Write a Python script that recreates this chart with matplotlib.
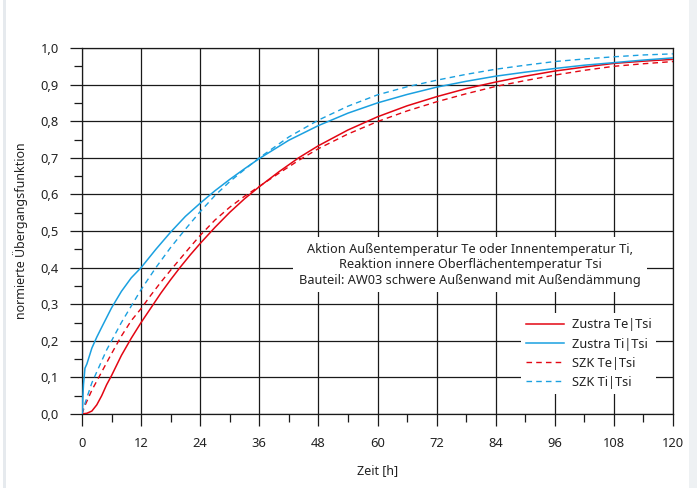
import matplotlib
matplotlib.use("Agg")
import matplotlib.pyplot as plt
from matplotlib.patches import Rectangle
from matplotlib.ticker import MultipleLocator, FixedLocator

plt.rcParams['font.family'] = ['Noto Sans', 'DejaVu Sans']

# ---- data ----
t_zustra_ti = [0, 0.3, 0.6, 1, 2, 3, 4, 6, 8, 10, 12, 15, 18, 21, 24, 27, 30, 33, 36, 42, 48,
               54, 60, 66, 72, 78, 84, 90, 96, 102, 108, 114, 120]
v_zustra_ti = [0, 0.08, 0.125, 0.137, 0.18, 0.21, 0.237, 0.29, 0.335, 0.372, 0.40, 0.45, 0.497,
               0.54, 0.576, 0.61, 0.641, 0.67, 0.698, 0.748, 0.788, 0.822, 0.85, 0.873, 0.893,
               0.909, 0.923, 0.934, 0.944, 0.953, 0.960, 0.967, 0.973]

t_szk_ti = [0, 0.5, 1, 2, 3, 4, 5, 6, 8, 10, 12, 14, 15, 18, 21, 24, 27, 30, 33, 36, 42, 48,
            54, 60, 66, 72, 78, 84, 90, 96, 102, 108, 114, 120]
v_szk_ti = [0, 0.025, 0.045, 0.085, 0.115, 0.145, 0.175, 0.20, 0.25, 0.295, 0.34, 0.38, 0.40,
            0.455, 0.505, 0.553, 0.597, 0.635, 0.668, 0.70, 0.757, 0.803, 0.841, 0.872, 0.894,
            0.912, 0.928, 0.942, 0.953, 0.963, 0.970, 0.976, 0.981, 0.984]

t_zustra_te = [0, 1, 2, 3, 4, 5, 6, 8, 10, 12, 14, 16, 18, 20, 22, 24, 27, 30, 33, 36, 40, 44,
               48, 54, 60, 66, 72, 78, 84, 90, 96, 102, 108, 114, 120]
v_zustra_te = [0, 0.002, 0.008, 0.025, 0.05, 0.08, 0.105, 0.16, 0.207, 0.25, 0.29, 0.33, 0.367,
               0.402, 0.435, 0.466, 0.51, 0.551, 0.588, 0.621, 0.662, 0.70, 0.733, 0.776, 0.812,
               0.842, 0.867, 0.889, 0.907, 0.923, 0.937, 0.948, 0.958, 0.964, 0.969]

t_szk_te = [0, 0.5, 1, 2, 3, 4, 5, 6, 8, 10, 12, 14, 16, 18, 20, 22, 24, 27, 30, 33, 36, 40, 44,
            48, 54, 60, 66, 72, 78, 84, 90, 96, 102, 108, 114, 120]
v_szk_te = [0, 0.02, 0.035, 0.065, 0.09, 0.115, 0.14, 0.165, 0.213, 0.255, 0.288, 0.325, 0.36,
            0.393, 0.425, 0.457, 0.488, 0.53, 0.565, 0.595, 0.622, 0.658, 0.693, 0.725, 0.765,
            0.799, 0.828, 0.853, 0.875, 0.895, 0.911, 0.926, 0.939, 0.95, 0.957, 0.963]

x_ticks = [0, 12, 24, 36, 48, 60, 72, 84, 96, 108, 120]
y_ticks = [0.0, 0.1, 0.2, 0.3, 0.4, 0.5, 0.6, 0.7, 0.8, 0.9, 1.0]
y_ticklabels = ['0,0', '0,1', '0,2', '0,3', '0,4', '0,5', '0,6', '0,7', '0,8', '0,9', '1,0']

labels = ['Zustra Te|Tsi', 'Zustra Ti|Tsi', 'SZK Te|Tsi', 'SZK Ti|Tsi']
annotation = ("Aktion Außentemperatur Te oder Innentemperatur Ti,\n"
              "Reaktion innere Oberflächentemperatur Tsi\n"
              "Bauteil: AW03 schwere Außenwand mit Außendämmung")

RED = '#e30613'
BLUE = '#1aa0e0'
GRID = '#1a1a1a'

W, H = 697, 488
fig = plt.figure(figsize=(W / 100, H / 100), dpi=100)
fig.patches.append(Rectangle((3 / W, 0), 3 / W, 1, transform=fig.transFigure,
                             facecolor='#e6eaee', edgecolor='none'))
fig.patches.append(Rectangle((689 / W, 0), 8 / W, 1, transform=fig.transFigure,
                             facecolor='#eef1f3', edgecolor='none'))

ax = fig.add_axes([82 / W, 1 - 414 / H, (673 - 82) / W, (414 - 48) / H])

ax.plot(t_zustra_te, v_zustra_te, color=RED, lw=1.1, label=labels[0], zorder=3)
ax.plot(t_zustra_ti, v_zustra_ti, color=BLUE, lw=1.1, label=labels[1], zorder=3)
ax.plot(t_szk_te, v_szk_te, color=RED, lw=1.0, ls=(0, (4, 3)), label=labels[2], zorder=3)
ax.plot(t_szk_ti, v_szk_ti, color=BLUE, lw=1.0, ls=(0, (4, 3)), label=labels[3], zorder=3)

ax.set_xlim(0, 120)
ax.set_ylim(0, 1.0)
ax.xaxis.set_major_locator(FixedLocator(x_ticks))
ax.xaxis.set_minor_locator(MultipleLocator(6))
ax.yaxis.set_major_locator(FixedLocator(y_ticks))
ax.yaxis.set_minor_locator(MultipleLocator(0.05))
ax.set_xticklabels([str(v) for v in x_ticks])
ax.set_yticklabels(y_ticklabels)

ax.set_axisbelow(True)
ax.grid(True, which='major', color=GRID, lw=0.9)
for s in ax.spines.values():
    s.set_color(GRID)
    s.set_linewidth(0.9)

ax.tick_params(which='major', direction='out', length=8.6, width=0.9, color=GRID,
               labelsize=9.3, pad=8, labelcolor='#222222')
ax.tick_params(which='minor', direction='out', length=5.8, width=0.9, color=GRID)

ax.set_xlabel('Zeit [h]', fontsize=9, color='#222222', labelpad=10)
ax.set_ylabel('normierte Übergangsfunktion', fontsize=9, color='#222222', labelpad=9)

ax.text(78.8, 0.408, annotation, ha='center', va='center', fontsize=9.2, color='#222222',
        linespacing=1.25, zorder=4,
        bbox=dict(boxstyle='square,pad=0.45', facecolor='white', edgecolor='none'))

leg = ax.legend(loc='upper left', bbox_to_anchor=(0.742, 0.275), fontsize=9.2,
                frameon=True, fancybox=False, framealpha=1, edgecolor='none',
                handlelength=3.0, handletextpad=0.6, borderaxespad=0, borderpad=0.4,
                labelspacing=0.48)
leg.set_zorder(5)
for txt in leg.get_texts():
    txt.set_color('#222222')

fig.savefig('out.png', dpi=100)
